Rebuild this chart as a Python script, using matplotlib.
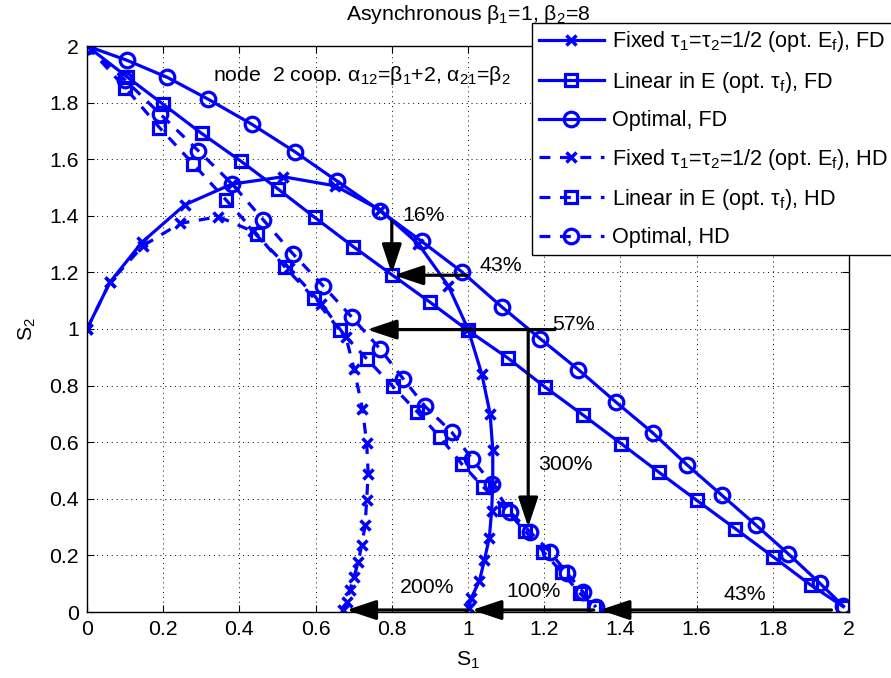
import matplotlib
matplotlib.use('Agg')
import matplotlib.pyplot as plt

plt.rcParams['font.family'] = 'Liberation Sans'
plt.rcParams['mathtext.default'] = 'regular'
plt.rcParams['font.size'] = 15.3

# values (S1, S2)
fixed_fd_s1 = [0, 0.06, 0.144, 0.257, 0.38, 0.515, 0.651, 0.77, 0.87, 0.948, 1.0,
               1.036, 1.058, 1.065, 1.065, 1.062, 1.056, 1.043, 1.03, 1.008, 1.002]
fixed_fd_s2 = [1.0, 1.165, 1.306, 1.439, 1.512, 1.538, 1.506, 1.42, 1.30, 1.153, 1.0,
               0.842, 0.701, 0.573, 0.454, 0.357, 0.263, 0.183, 0.11, 0.048, 0.013]

linear_fd_s1 = [0, 0.104, 0.2, 0.301, 0.403, 0.502, 0.598, 0.699, 0.8, 0.9, 1.0,
                1.104, 1.202, 1.303, 1.402, 1.5, 1.6, 1.701, 1.801, 1.9, 1.985]
linear_fd_s2 = [2.0, 1.892, 1.794, 1.691, 1.594, 1.494, 1.394, 1.291, 1.192, 1.095, 0.995,
                0.898, 0.795, 0.695, 0.595, 0.495, 0.395, 0.295, 0.195, 0.095, 0.019]

optimal_fd_s1 = [0, 0.104, 0.211, 0.318, 0.432, 0.546, 0.655, 0.769, 0.878, 0.983, 1.088,
                 1.19, 1.29, 1.388, 1.485, 1.574, 1.666, 1.756, 1.841, 1.924, 1.985]
optimal_fd_s2 = [2.0, 1.95, 1.889, 1.812, 1.724, 1.626, 1.524, 1.418, 1.31, 1.203, 1.079,
                 0.965, 0.856, 0.742, 0.633, 0.521, 0.413, 0.307, 0.205, 0.101, 0.021]

fixed_hd_s1 = [0, 0.06, 0.148, 0.244, 0.345, 0.435, 0.53, 0.615, 0.68, 0.701, 0.723,
               0.734, 0.738, 0.734, 0.73, 0.721, 0.712, 0.701, 0.69, 0.682, 0.671]
fixed_hd_s2 = [1.0, 1.165, 1.295, 1.373, 1.397, 1.345, 1.215, 1.09, 0.97, 0.858, 0.718,
               0.597, 0.489, 0.395, 0.307, 0.236, 0.177, 0.125, 0.078, 0.036, 0.007]

linear_hd_s1 = [0, 0.1, 0.19, 0.279, 0.365, 0.445, 0.52, 0.596, 0.664, 0.734, 0.802,
                0.867, 0.927, 0.983, 1.04, 1.097, 1.15, 1.198, 1.246, 1.294, 1.331]
linear_hd_s2 = [2.0, 1.853, 1.712, 1.583, 1.456, 1.336, 1.218, 1.109, 0.995, 0.895, 0.798,
                0.707, 0.617, 0.524, 0.442, 0.364, 0.286, 0.213, 0.14, 0.066, 0.016]

optimal_hd_s1 = [0, 0.1, 0.192, 0.292, 0.38, 0.463, 0.541, 0.62, 0.695, 0.769, 0.83,
                 0.887, 0.957, 1.01, 1.062, 1.11, 1.163, 1.215, 1.259, 1.301, 1.336]
optimal_hd_s2 = [2.0, 1.88, 1.76, 1.63, 1.514, 1.385, 1.265, 1.152, 1.042, 0.93, 0.824,
                 0.727, 0.636, 0.542, 0.454, 0.354, 0.283, 0.213, 0.139, 0.072, 0.017]

labels = [r'Fixed τ$_1$=τ$_2$=1/2 (opt. E$_f$), FD',
          r'Linear in E (opt. τ$_f$), FD',
          'Optimal, FD',
          r'Fixed τ$_1$=τ$_2$=1/2 (opt. E$_f$), HD',
          r'Linear in E (opt. τ$_f$), HD',
          'Optimal, HD']

xticks = [0, 0.2, 0.4, 0.6, 0.8, 1, 1.2, 1.4, 1.6, 1.8, 2]
xtick_labels = ['0', '0.2', '0.4', '0.6', '0.8', '1', '1.2', '1.4', '1.6', '1.8', '2']

# arrows: (tail, head, label, label position)
arrows = [((0.8, 1.38), (0.8, 1.195), '16%', (0.829, 1.383)),
          ((0.997, 1.19), (0.805, 1.19), '43%', (1.031, 1.204)),
          ((1.228, 0.998), (0.735, 0.998), '57%', (1.22, 0.995)),
          ((1.158, 0.998), (1.158, 0.30), '300%', (1.185, 0.501)),
          ((1.954, 0.007), (1.346, 0.007), '43%', (1.67, 0.042)),
          ((1.33, 0.007), (1.01, 0.007), '100%', (1.101, 0.054)),
          ((1.0, 0.007), (0.681, 0.007), '200%', (0.822, 0.066))]

fig = plt.figure(figsize=(8.91, 6.78), dpi=100)
ax = fig.add_axes([87 / 891, 66 / 678, 762 / 891, 566 / 678])

blue = (0, 0, 1)
lw = 2.3
dashed = (0, (3.4, 3.0))

ax.plot(fixed_fd_s1, fixed_fd_s2, color=blue, lw=lw, marker='x', ms=7, mew=2.5, label=labels[0])
ax.plot(linear_fd_s1, linear_fd_s2, color=blue, lw=lw, marker='s', ms=9, mew=2.3, mfc='none', label=labels[1])
ax.plot(optimal_fd_s1, optimal_fd_s2, color=blue, lw=lw, marker='o', ms=10.5, mew=2.3, mfc='none', label=labels[2])
ax.plot(fixed_hd_s1, fixed_hd_s2, color=blue, lw=lw, ls=dashed, marker='x', ms=7, mew=2.5, label=labels[3])
ax.plot(linear_hd_s1, linear_hd_s2, color=blue, lw=lw, ls=dashed, marker='s', ms=9, mew=2.3, mfc='none', label=labels[4])
ax.plot(optimal_hd_s1, optimal_hd_s2, color=blue, lw=lw, ls=dashed, marker='o', ms=10.5, mew=2.3, mfc='none', label=labels[5])

for tail, head, txt, pos in arrows:
    ax.annotate('', xy=head, xytext=tail,
                arrowprops=dict(arrowstyle='-|>,head_length=0.9,head_width=0.3',
                                color='k', lw=2.3, shrinkA=0, shrinkB=0, mutation_scale=20),
                zorder=6)
    ax.text(pos[0], pos[1], txt, va='baseline', ha='left', zorder=6)

ax.text(0.331, 1.877, r'node  2 coop. α$_{12}$=β$_1$+2, α$_{21}$=β$_2$', va='baseline', ha='left')

ax.set_xlim(0, 2)
ax.set_ylim(0, 2)
ax.set_xticks(xticks)
ax.set_xticklabels(xtick_labels)
ax.set_yticks(xticks)
ax.set_yticklabels(xtick_labels)
ax.grid(True, linestyle=(0, (1, 4)), color='k', linewidth=0.7)
ax.set_axisbelow(True)
ax.tick_params(direction='in', top=True, right=True, length=5, width=0.8, pad=6)
for sp in ax.spines.values():
    sp.set_linewidth(1.0)

ax.set_xlabel(r'S$_1$')
ax.set_ylabel(r'S$_2$')
ax.xaxis.set_label_coords(0.5, -0.067)
ax.yaxis.set_label_coords(-0.064, 0.5)

ax.text(468 / 891, 1 - 20 / 678, r'Asynchronous β$_1$=1, β$_2$=8', transform=fig.transFigure,
        ha='center', va='baseline', zorder=3)

leg = ax.legend(loc='upper left', bbox_to_anchor=(532 / 891, 1 - 23 / 678),
                bbox_transform=fig.transFigure, borderaxespad=0, fontsize=15.6,
                fancybox=False, framealpha=1, edgecolor='k', handlelength=3.0,
                handletextpad=0.4, labelspacing=0.71, borderpad=0.3)
leg.get_frame().set_linewidth(1.0)
leg.set_zorder(10)

fig.savefig('out.png', dpi=100)
